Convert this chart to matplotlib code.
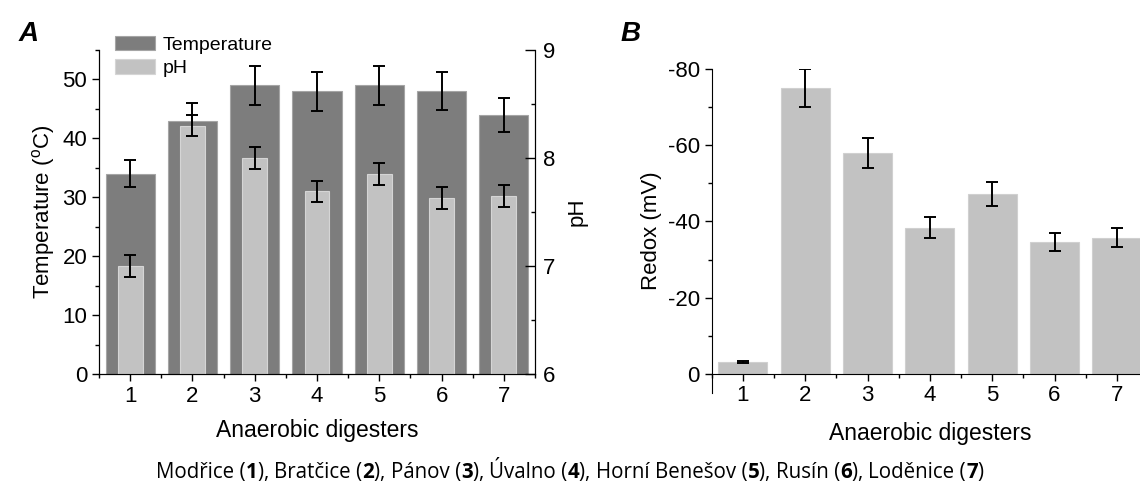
import numpy as np
import matplotlib
matplotlib.use("Agg")
import matplotlib.pyplot as plt
from matplotlib.ticker import MultipleLocator

plt.rcParams["font.family"] = ["Liberation Sans", "DejaVu Sans"]
plt.rcParams["mathtext.fontset"] = "custom"
plt.rcParams["mathtext.rm"] = "Liberation Sans"
plt.rcParams["axes.unicode_minus"] = False

digesters = [1, 2, 3, 4, 5, 6, 7]
temperature = [34, 43, 49, 48, 49, 48, 44]
temperature_err = [2.3, 3.0, 3.3, 3.3, 3.3, 3.2, 2.9]
ph = [7.0, 8.3, 8.0, 7.69, 7.85, 7.63, 7.65]
ph_err = [0.1, 0.1, 0.1, 0.1, 0.1, 0.1, 0.1]
redox = [-3, -75, -58, -38.4, -47.3, -34.6, -35.7]
redox_err = [0.3, 5.0, 4.0, 2.8, 3.2, 2.4, 2.5]
sites = ["Modřice", "Bratčice", "Pánov", "Úvalno", "Horní Benešov", "Rusín", "Loděnice"]

DARK = "#7d7d7d"
LIGHT = "#c2c2c2"
ERR = dict(fmt="none", ecolor="black", elinewidth=1.4, capsize=4, capthick=1.4)
FS = 16

fig = plt.figure(figsize=(11.4, 4.93), dpi=100)

# ---- panel A
ax = fig.add_axes([99 / 1140, 1 - 374 / 493, (535 - 99) / 1140, 324 / 493])
ax.bar(digesters, temperature, width=0.79, color=DARK, edgecolor="#a5a5a5",
       linewidth=0.8, label="Temperature")
ax.errorbar(digesters, temperature, yerr=temperature_err, **ERR)
ax.set_xlim(0.5, 7.5)
ax.set_ylim(0, 55)
ax.yaxis.set_major_locator(MultipleLocator(10))
ax.yaxis.set_minor_locator(MultipleLocator(5))
ax.xaxis.set_major_locator(MultipleLocator(1))
ax.xaxis.set_minor_locator(MultipleLocator(0.5))
ax.set_ylabel("Temperature ($^{\\mathrm{o}}$C)", fontsize=FS, labelpad=4)
ax.set_xlabel("Anaerobic digesters", fontsize=FS + 0.5, labelpad=9)
ax.spines["top"].set_visible(False)
ax.tick_params(which="major", direction="out", length=5, width=1, labelsize=FS)
ax.tick_params(which="minor", direction="out", length=3, width=1)

ax2 = ax.twinx()
ax2.bar(digesters, np.array(ph) - 6, bottom=6, width=0.4, color=LIGHT,
        edgecolor="#d5d5d5", linewidth=0.8, label="pH")
ax2.errorbar(digesters, ph, yerr=ph_err, **ERR)
ax2.set_ylim(6, 9)
ax2.yaxis.set_major_locator(MultipleLocator(1))
ax2.yaxis.set_minor_locator(MultipleLocator(0.5))
ax2.set_ylabel("pH", fontsize=FS, labelpad=8)
ax2.spines["top"].set_visible(False)
ax2.tick_params(axis="y", which="major", direction="in", length=7, width=1,
                labelsize=FS, pad=6)
ax2.tick_params(axis="y", which="minor", direction="in", length=3, width=1)

h1, l1 = ax.get_legend_handles_labels()
h2, l2 = ax2.get_legend_handles_labels()
fig.legend(h1 + h2, l1 + l2, loc="upper left", bbox_to_anchor=(101 / 1140, 1 - 22 / 493),
           frameon=False, fontsize=14, handlelength=2.1, handleheight=0.8,
           handletextpad=0.35, labelspacing=0.25, borderpad=0.2)

# ---- panel B
bx = fig.add_axes([711.7 / 1140, 1 - 392.7 / 493, (1148 - 711.7) / 1140, (392.7 - 69.3) / 493])
bx.bar(digesters, redox, width=0.79, color=LIGHT, edgecolor="#d0d0d0", linewidth=0.8)
bx.errorbar(digesters, redox, yerr=redox_err, **ERR)
bx.set_xlim(0.5, 7.5)
bx.set_ylim(5, -80)
bx.set_yticks([0, -20, -40, -60, -80])
bx.yaxis.set_minor_locator(MultipleLocator(10))
bx.xaxis.set_major_locator(MultipleLocator(1))
bx.xaxis.set_minor_locator(MultipleLocator(0.5))
bx.spines["bottom"].set_position(("data", 0))
bx.spines["top"].set_visible(False)
bx.spines["right"].set_visible(False)
bx.tick_params(which="major", direction="out", length=5, width=1, labelsize=FS)
bx.tick_params(which="minor", direction="out", length=3, width=1)
bx.set_ylabel("Redox (mV)", fontsize=FS, labelpad=4)
bx.set_xlabel("Anaerobic digesters", fontsize=FS + 0.5, labelpad=11)

# panel letters
fig.text(19 / 1140, 1 - 41 / 493, "A", fontsize=20, fontweight="bold", fontstyle="italic")
fig.text(621 / 1140, 1 - 41 / 493, "B", fontsize=20, fontweight="bold", fontstyle="italic")

# caption: site names with bold digester numbers, laid out piece by piece
pieces = []
for i, name in enumerate(sites):
    pieces.append((name + " (", "normal"))
    pieces.append((str(i + 1), "bold"))
    pieces.append(("), " if i < len(sites) - 1 else ")", "normal"))

renderer = fig.canvas.get_renderer()
cap_font = dict(fontsize=14.8, family=["Open Sans", "DejaVu Sans"], va="baseline")
texts = []
x = 0.0
for s, w in pieces:
    t = fig.text(x, 1 - 478 / 493, s, fontweight=w, **cap_font)
    texts.append(t)
    x += t.get_window_extent(renderer).width / fig.bbox.width
x0 = 0.5 - x / 2
for t in texts:
    t.set_x(t.get_position()[0] + x0)

fig.savefig("out.png", dpi=100)
